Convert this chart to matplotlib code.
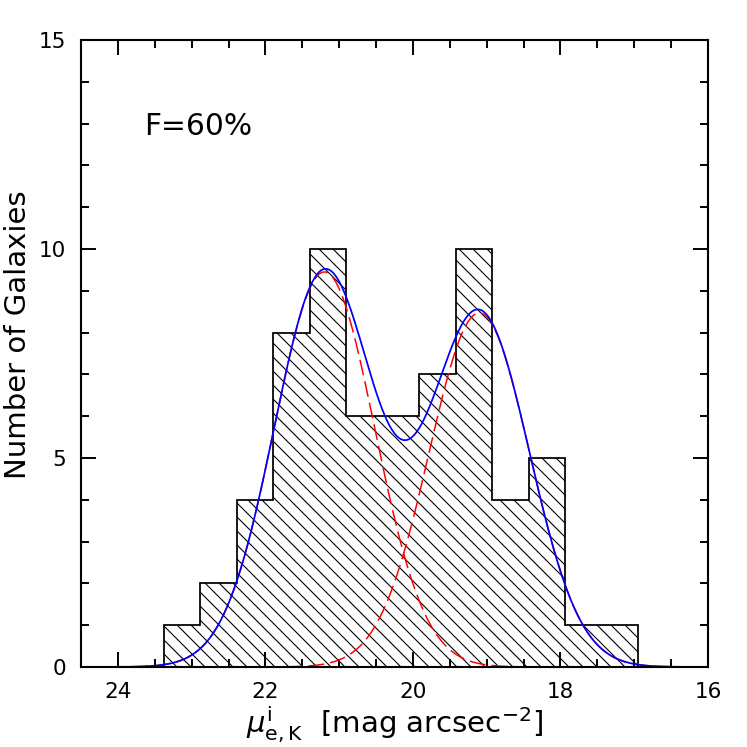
import matplotlib
matplotlib.use('Agg')
import matplotlib.pyplot as plt
import numpy as np
from matplotlib.ticker import MultipleLocator

# histogram bins as they appear left to right (x axis runs reversed)
bin_edges = [23.38, 22.885, 22.39, 21.895, 21.40, 20.905, 20.41,
             19.915, 19.42, 18.925, 18.43, 17.935, 17.44, 16.945]
counts = [1, 2, 4, 8, 10, 6, 6, 7, 10, 4, 5, 1, 1]

# two-component gaussian fit
gauss_mu = [21.2, 19.1]
gauss_sigma = [0.68, 0.68]
gauss_amp = [9.45, 8.47]
curve_start, curve_end = 24.1, 16.3

fraction_label = 'F=60%'

DPI = 84  # hatch spacing is tied to dpi, 84 gives ~7px like the original

plt.rcParams['font.family'] = ['DejaVu Sans']
plt.rcParams['hatch.linewidth'] = 0.95

fig = plt.figure(figsize=(747 / DPI, 747 / DPI), dpi=DPI)
ax = fig.add_axes([0.1084, 0.1071, 0.8394, 0.8394])

# stairs wants increasing edges
ax.stairs(counts[::-1], bin_edges[::-1], fill=True, facecolor='none',
          edgecolor='black', hatch='\\\\', linewidth=1.5, zorder=1)

x = np.linspace(curve_start, curve_end, 500)
components = [a * np.exp(-0.5 * ((x - m) / s) ** 2)
              for m, s, a in zip(gauss_mu, gauss_sigma, gauss_amp)]
for comp in components:
    ax.plot(x, comp, color='red', linewidth=1.3, dashes=(10.5, 4), zorder=2)
ax.plot(x, components[0] + components[1], color='blue', linewidth=1.5, zorder=2.2)

ax.text(23.64, 12.73, fraction_label, fontsize=25.5, ha='left', va='baseline')

ax.set_xlim(24.5, 16)
ax.set_ylim(0, 15)
ax.xaxis.set_major_locator(MultipleLocator(2))
ax.xaxis.set_minor_locator(MultipleLocator(0.5))
ax.yaxis.set_major_locator(MultipleLocator(5))
ax.yaxis.set_minor_locator(MultipleLocator(1))
ax.tick_params(which='both', direction='in', top=True, right=True, width=1.67)
ax.tick_params(which='major', length=12.9, labelsize=18.4, pad=13)
ax.tick_params(which='minor', length=6.6)
for sp in ax.spines.values():
    sp.set_linewidth(1.8)

ax.set_xlabel(r'$\mu^{\rm i}_{\rm e,K}$  [mag arcsec$^{-2}$]', fontsize=25, labelpad=2.4)
ax.set_ylabel('Number of Galaxies', fontsize=25)
ax.yaxis.set_label_coords(-0.078, 0.53)

fig.savefig('out.png', dpi=DPI)
